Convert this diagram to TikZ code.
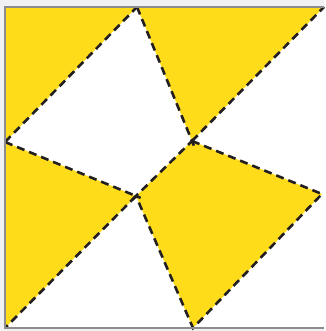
\documentclass[tikz,border=0pt]{standalone}
\usetikzlibrary{calc}
\definecolor{pinYellow}{HTML}{FEDC1A}
\definecolor{pinInk}{HTML}{231F20}
\definecolor{pinFrame}{HTML}{8C8C8C}
\definecolor{pinBack}{HTML}{EFF1F3}
\begin{document}
\begin{tikzpicture}[x=1pt,y=-1pt,line cap=butt,line join=miter]
\tikzset{blade/.style={fill=pinYellow,draw=none},fold/.style={draw=pinInk,line width=2.6pt,dash pattern=on 8pt off 5pt},frame/.style={draw=pinFrame,line width=1.4pt}}
\path[fill=pinBack] (0,0) rectangle (324,331);
\path[fill=white] (5,7) rectangle (324,328);
\coordinate (tl) at (5,7); \coordinate (tm) at (137,7); \coordinate (tr) at (324,7);
\coordinate (lm) at (5,142); \coordinate (bl) at (5,328); \coordinate (bm) at (193,328);
\coordinate (ca) at (192,141); \coordinate (cb) at (136,196); \coordinate (rm) at (322,194);
% yellow blades
\path[blade] (tl) -- (tm) -- (lm) -- cycle;
\path[blade] (tm) -- (tr) -- (ca) -- cycle;
\path[blade] (lm) -- (cb) -- (bl) -- cycle;
\path[blade] (ca) -- (rm) -- (bm) -- (cb) -- cycle;
% fold lines
\draw[fold] (lm) -- (tm);
\draw[fold,shorten >=-5pt] (tm) -- (ca);
\draw[fold] (ca) -- (tr);
\draw[fold,shorten >=-5pt] (lm) -- (cb);
\draw[fold] (cb) -- (bl);
\draw[fold] (ca) -- (rm) -- (bm) -- (cb);
\draw[fold,shorten >=-5pt,shorten <=-5pt] (cb) -- (ca);
% frame
\draw[frame] (324,7) -- (5,7) -- (5,328) -- (324,328);
\end{tikzpicture}
\end{document}
